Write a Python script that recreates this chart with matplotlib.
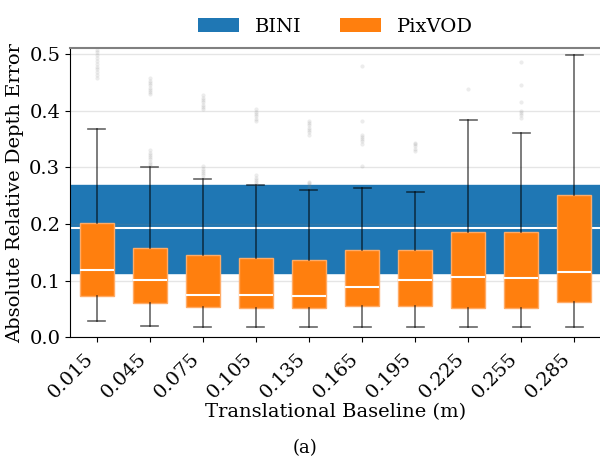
import matplotlib
matplotlib.use("Agg")
import matplotlib.pyplot as plt
from matplotlib.patches import Patch

plt.rcParams['font.family'] = 'DejaVu Serif'

# baselines (m)
baselines = ["0.015", "0.045", "0.075", "0.105", "0.135",
             "0.165", "0.195", "0.225", "0.255", "0.285"]

# PixVOD box statistics
pix_q1 = [0.073, 0.061, 0.054, 0.051, 0.051, 0.055, 0.056, 0.052, 0.051, 0.063]
pix_med = [0.118, 0.102, 0.075, 0.074, 0.073, 0.089, 0.102, 0.107, 0.104, 0.116]
pix_q3 = [0.201, 0.158, 0.145, 0.140, 0.137, 0.154, 0.154, 0.186, 0.186, 0.251]
pix_lo = [0.029, 0.020, 0.019, 0.019, 0.019, 0.019, 0.019, 0.019, 0.018, 0.018]
pix_hi = [0.368, 0.300, 0.279, 0.268, 0.260, 0.264, 0.257, 0.383, 0.361, 0.498]

# outliers (faint grey streaks)
pix_fliers = [
    [0.458, 0.463, 0.468, 0.473, 0.478, 0.483, 0.488, 0.493, 0.498, 0.503, 0.508, 0.515],
    [0.302, 0.306, 0.310, 0.314, 0.318, 0.322, 0.326, 0.330,
     0.429, 0.433, 0.437, 0.441, 0.445, 0.449, 0.453, 0.457],
    [0.282, 0.286, 0.290, 0.294, 0.298, 0.302,
     0.403, 0.407, 0.411, 0.415, 0.419, 0.423, 0.427],
    [0.270, 0.274, 0.278, 0.282, 0.286,
     0.382, 0.386, 0.390, 0.394, 0.398, 0.403],
    [0.266, 0.269, 0.272, 0.275,
     0.358, 0.362, 0.366, 0.370, 0.374, 0.378, 0.381],
    [0.302, 0.342, 0.346, 0.350, 0.354, 0.358, 0.381, 0.479],
    [0.329, 0.333, 0.337, 0.341, 0.343],
    [0.439],
    [0.388, 0.392, 0.396, 0.399, 0.416, 0.445, 0.486],
    [],
]

# BINI statistics (drawn as a band across the whole axis)
bini_q1 = 0.114
bini_med = 0.193
bini_q3 = 0.269

fig = plt.figure(figsize=(6.0, 4.57), dpi=100)
ax = fig.add_axes([0.1167, 0.262, 0.885, 0.632])

ax.axhspan(bini_q1, bini_q3, color='#1f77b4', zorder=1)
ax.axhline(bini_med, color='white', lw=1.5, zorder=1.1)

stats = []
for i in range(len(baselines)):
    stats.append(dict(med=pix_med[i], q1=pix_q1[i], q3=pix_q3[i],
                      whislo=pix_lo[i], whishi=pix_hi[i], fliers=pix_fliers[i]))

positions = list(range(1, len(baselines) + 1))
ax.bxp(stats, positions=positions, widths=0.64, patch_artist=True,
       boxprops=dict(facecolor='#ff7f0e', edgecolor='#ffab66', lw=1),
       medianprops=dict(color='white', lw=1.5),
       whiskerprops=dict(color='black', lw=1.2, alpha=0.6),
       capprops=dict(color='black', lw=1.2, alpha=0.6),
       flierprops=dict(marker='o', markersize=3, markerfacecolor='gray',
                       markeredgecolor='none', alpha=0.15))

ax.set_xlim(0.5, 10.5)
ax.set_ylim(0.0, 0.51)
ax.set_yticks([0.0, 0.1, 0.2, 0.3, 0.4, 0.5])
ax.set_xticks(positions)
ax.set_xticklabels(baselines, rotation=45, ha='right', fontsize=14)
ax.tick_params(axis='x', pad=5.5)
ax.tick_params(axis='y', labelsize=14)
ax.yaxis.grid(True, color='gray', alpha=0.2, lw=1, zorder=1.5)

ax.spines['top'].set_color('gray')
ax.spines['top'].set_linewidth(1.5)
ax.spines['right'].set_visible(False)

ax.set_xlabel('Translational Baseline (m)', fontsize=14, labelpad=1)
ax.set_ylabel('Absolute Relative Depth Error', fontsize=14)

handles = [Patch(facecolor='#1f77b4', label='BINI'),
           Patch(facecolor='#ff7f0e', label='PixVOD')]
ax.legend(handles=handles, loc='lower center', bbox_to_anchor=(0.5, 1.0),
          ncol=2, frameon=False, fontsize=14, handlelength=2.1,
          handletextpad=0.8, columnspacing=2.0, borderaxespad=0.25)

fig.text(0.508, 0.019, '(a)', ha='center', va='center', fontsize=13)

fig.savefig('out.png', dpi=100)
